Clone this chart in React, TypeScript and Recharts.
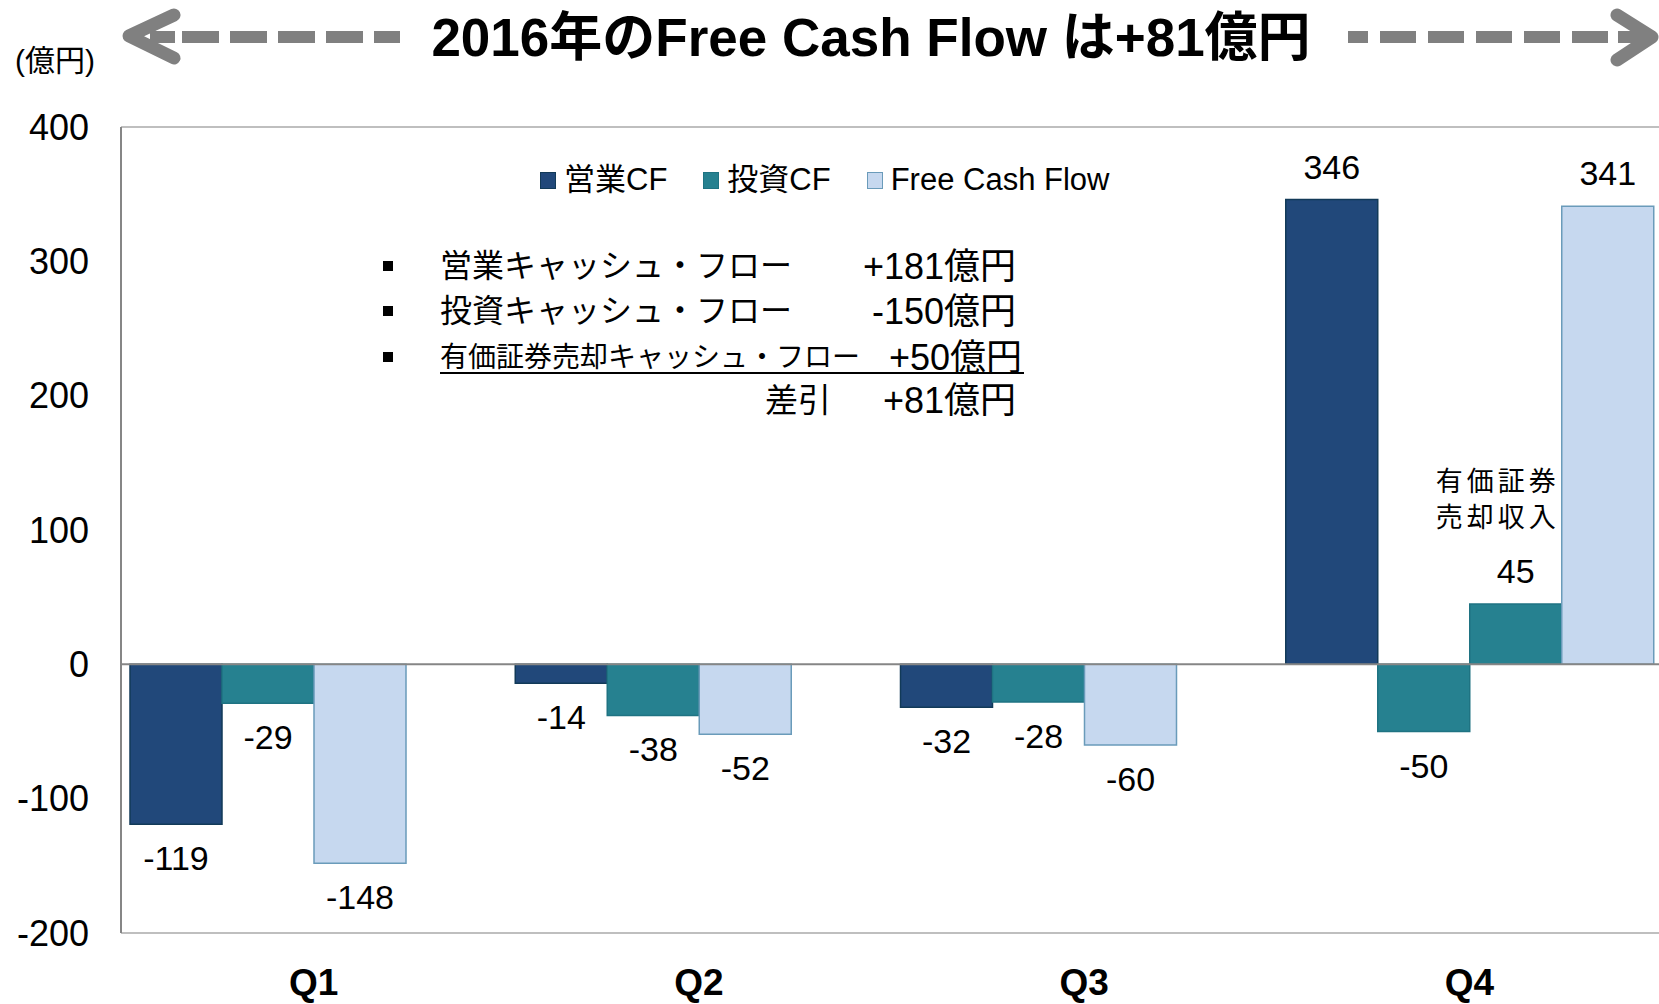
import React from 'react';
import { BarChart, Bar, XAxis, YAxis, ReferenceLine, Cell, LabelList, Legend } from 'recharts';

const FONT = "'Liberation Sans', Arial, 'Noto Sans CJK JP', sans-serif";

// values in 億円
const quarters = ['Q1', 'Q2', 'Q3', 'Q4'];
const operatingCF = [-119, -14, -32, 346];
const investingCF = [-29, -38, -28, -50];
const securitiesSale: (number | null)[] = [null, null, null, 45];
const freeCashFlow = [-148, -52, -60, 341];
const yTicks = [-200, -100, 0, 100, 200, 300, 400];
const legendLabels = ['営業CF', '投資CF', 'Free Cash Flow'];
const saleNote = ['有価証券', '売却収入'];

const NAVY = { fill: '#21487A', stroke: '#123A58' };
const TEAL = { fill: '#268190', stroke: '#1F7382' };
const LIGHT = { fill: '#C6D8EF', stroke: '#6A9BBA' };
const legendColors = [NAVY, TEAL, LIGHT];

// slot 3 holds FCF, except in Q4 where the securities sale sits before FCF
const data = quarters.map((q, i) => {
  const sale = securitiesSale[i];
  return {
    quarter: q,
    op: operatingCF[i],
    inv: investingCF[i],
    third: sale != null ? sale : freeCashFlow[i],
    fourth: sale != null ? freeCashFlow[i] : null,
    isSale: sale != null,
  };
});

const valueLabel = (withNote: boolean) => (props: any) => {
  const vb = props.viewBox && props.viewBox.width != null ? props.viewBox : props;
  const { x, y, width, height } = vb;
  const value = props.value;
  if (value == null || x == null) return null;
  const top = Math.min(y, y + height);
  const bottom = Math.max(y, y + height);
  const cx = x + width / 2;
  const cy = value >= 0 ? top - 33 : bottom + 34;
  const showNote = withNote && data[props.index] && data[props.index].isSale;
  return (
    <g>
      <text x={cx} y={cy} textAnchor="middle" dominantBaseline="central" fontSize={34} fontFamily={FONT} fill="#000">
        {value}
      </text>
      {showNote &&
        saleNote.map((line, k) => (
          <text
            key={k}
            x={x + width - 2}
            y={cy - 89 + k * 36}
            textAnchor="end"
            dominantBaseline="central"
            fontSize={27}
            letterSpacing={4}
            fontFamily={FONT}
            fill="#000"
          >
            {line}
          </text>
        ))}
    </g>
  );
};

const YTick = (props: any) => (
  <text x={props.x} y={props.y} textAnchor="end" dy="0.355em" fontSize={36} fontFamily={FONT} fill="#000">
    {props.payload.value}
  </text>
);

const XTick = (props: any) => (
  <text x={props.x} y={933 + 49} textAnchor="middle" dy="0.355em" fontSize={37} fontWeight="bold" fontFamily={FONT} fill="#000">
    {props.payload.value}
  </text>
);

const renderLegend = () => (
  <div style={{ display: 'flex', alignItems: 'center', fontFamily: FONT, fontSize: 31, color: '#000', lineHeight: '34px', whiteSpace: 'nowrap' }}>
    {legendLabels.map((label, i) => (
      <div key={label} style={{ display: 'flex', alignItems: 'center', marginRight: i < legendLabels.length - 1 ? 36 : 0 }}>
        <span
          style={{
            display: 'inline-block',
            width: 14,
            height: 15,
            background: legendColors[i].fill,
            border: `1.5px solid ${legendColors[i].stroke}`,
            marginRight: 8,
          }}
        />
        <span>{label}</span>
      </div>
    ))}
  </div>
);

const bullets = [
  { label: '営業キャッシュ・フロー', value: '+181億円', y: 266, size: 32, right: 1016 },
  { label: '投資キャッシュ・フロー', value: '-150億円', y: 311, size: 32, right: 1016 },
  { label: '有価証券売却キャッシュ・フロー', value: '+50億円', y: 357, size: 28, right: 1022 },
];

const Overlay = () => (
  <svg width={1659} height={1004} style={{ position: 'absolute', left: 0, top: 0, pointerEvents: 'none' }}>
    {/* title with dashed arrows */}
    <g stroke="#808080" fill="none" strokeLinecap="round" strokeLinejoin="round">
      <polyline points="174,15 129,36 174,58" strokeWidth={13} />
      <line x1={150} y1={37} x2={175} y2={37} strokeWidth={12} strokeLinecap="butt" />
      <line x1={182} y1={37} x2={400} y2={37} strokeWidth={12} strokeLinecap="butt" strokeDasharray="37 11" />
      <line x1={1348} y1={37} x2={1608} y2={37} strokeWidth={12} strokeLinecap="butt" strokeDasharray="36 12" strokeDashoffset={16} />
      <line x1={1618} y1={37} x2={1645} y2={37} strokeWidth={12} strokeLinecap="butt" />
      <polyline points="1617,15 1652,37 1617,60" strokeWidth={13} />
    </g>
    <text x={871} y={37} textAnchor="middle" dominantBaseline="central" fontSize={53} fontWeight="bold" fontFamily={FONT} fill="#000">
      2016年のFree Cash Flow は+81億円
    </text>
    <text x={15} y={60} dominantBaseline="central" fontSize={30} fontFamily={FONT} fill="#000">
      (億円)
    </text>
    {/* summary */}
    {bullets.map((b) => (
      <g key={b.label}>
        <rect x={383} y={b.y - 5} width={10} height={10} fill="#000" />
        <text x={440} y={b.y} dominantBaseline="central" fontSize={b.size} fontFamily={FONT} fill="#000">
          {b.label}
        </text>
        <text x={b.right} y={b.y} textAnchor="end" dominantBaseline="central" fontSize={36} fontFamily={FONT} fill="#000">
          {b.value}
        </text>
      </g>
    ))}
    <line x1={440} y1={373} x2={1024} y2={373} stroke="#000" strokeWidth={2} />
    <text x={765} y={400} dominantBaseline="central" fontSize={33} fontFamily={FONT} fill="#000">
      差引
    </text>
    <text x={1016} y={400} textAnchor="end" dominantBaseline="central" fontSize={36} fontFamily={FONT} fill="#000">
      +81億円
    </text>
  </svg>
);

export default function App() {
  return (
    <div style={{ position: 'absolute', left: 0, top: 0, width: 1659, height: 1004, overflow: 'hidden', background: '#fff' }}>
      <BarChart
        width={1662}
        height={1004}
        data={data}
        margin={{ top: 127, right: 0, bottom: 0, left: 0 }}
        barCategoryGap={9}
        barGap={0}
      >
        <XAxis dataKey="quarter" height={71} axisLine={false} tickLine={false} tickSize={0} tickMargin={0} tick={<XTick />} />
        <YAxis
          width={121}
          domain={[-200, 400]}
          ticks={yTicks}
          interval={0}
          axisLine={{ stroke: '#868686', strokeWidth: 2 }}
          tickLine={false}
          tickSize={0}
          tickMargin={32}
          tick={<YTick />}
        />
        <ReferenceLine y={400} stroke="#BFBFBF" strokeWidth={2} />
        <ReferenceLine y={-200} stroke="#BFBFBF" strokeWidth={2} />
        <Legend verticalAlign="middle" align="center" layout="horizontal" content={renderLegend} wrapperStyle={{ left: 540, top: 163, width: 'auto' }} />
        <Bar dataKey="op" fill={NAVY.fill} stroke={NAVY.stroke} strokeWidth={1.5} isAnimationActive={false}>
          <LabelList dataKey="op" content={valueLabel(false)} />
        </Bar>
        <Bar dataKey="inv" fill={TEAL.fill} stroke={TEAL.stroke} strokeWidth={1.5} isAnimationActive={false}>
          <LabelList dataKey="inv" content={valueLabel(false)} />
        </Bar>
        <Bar dataKey="third" strokeWidth={1.5} isAnimationActive={false}>
          {data.map((d) => {
            const c = d.isSale ? TEAL : LIGHT;
            return <Cell key={d.quarter} fill={c.fill} stroke={c.stroke} />;
          })}
          <LabelList dataKey="third" content={valueLabel(true)} />
        </Bar>
        <Bar dataKey="fourth" fill={LIGHT.fill} stroke={LIGHT.stroke} strokeWidth={1.5} isAnimationActive={false}>
          <LabelList dataKey="fourth" content={valueLabel(false)} />
        </Bar>
        <ReferenceLine y={0} stroke="#868686" strokeWidth={2} />
      </BarChart>
      <Overlay />
    </div>
  );
}
